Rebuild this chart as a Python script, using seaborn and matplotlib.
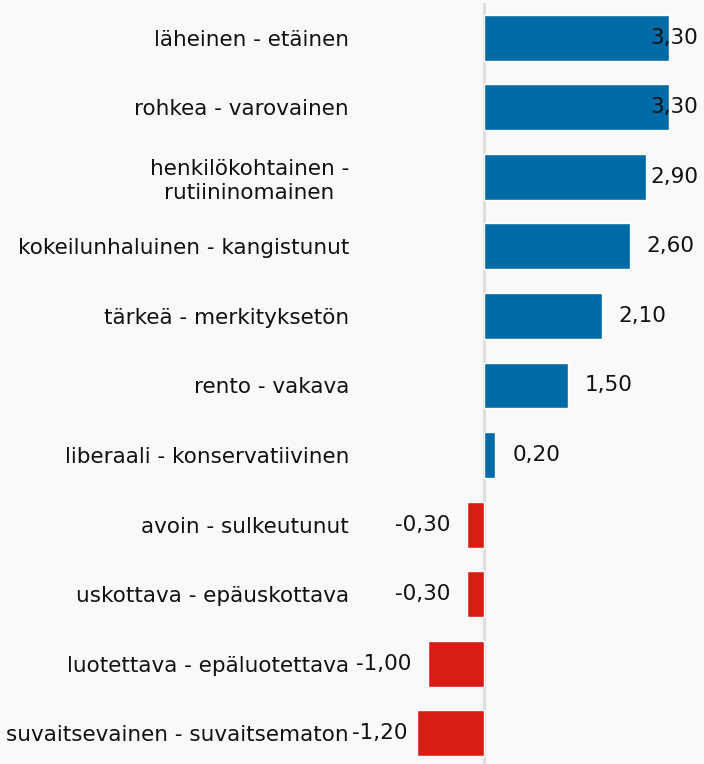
import pandas as pd
import matplotlib.pyplot as plt
import seaborn as sns

kategoriat = [
    'läheinen - etäinen',
    'rohkea - varovainen',
    'henkilökohtainen -\nrutiininomainen',
    'kokeilunhaluinen - kangistunut',
    'tärkeä - merkityksetön',
    'rento - vakava',
    'liberaali - konservatiivinen',
    'avoin - sulkeutunut',
    'uskottava - epäuskottava',
    'luotettava - epäluotettava',
    'suvaitsevainen - suvaitsematon',
]
arvot = [3.30, 3.30, 2.90, 2.60, 2.10, 1.50, 0.20, -0.30, -0.30, -1.00, -1.20]

df = pd.DataFrame({'pari': kategoriat, 'arvo': arvot})
df['suunta'] = ['pos' if v >= 0 else 'neg' for v in df['arvo']]

sns.set_style('white')
plt.rcParams['font.family'] = ['DejaVu Sans']

fs = 15.5
fig = plt.figure(figsize=(7.04, 7.64), dpi=100, facecolor='#f9f9f9')
ax = fig.add_axes([360 / 704, -4 / 764, 344 / 704, 765 / 764])
ax.set_facecolor('#f9f9f9')

sns.barplot(data=df, x='arvo', y='pari', hue='suunta', orient='h',
            palette={'pos': '#006ba6', 'neg': '#d71e14'}, width=0.66,
            dodge=False, legend=False, saturation=1, ax=ax)

px = 1 / 56  # one pixel in data units
xmin, xmax = -124 * px, 220 * px
ax.set_xlim(xmin, xmax)
ax.set_ylim(10.5, -0.5)
ax.axvline(0, color='#dddddd', lw=2, zorder=0)

pad = 17 * px
for i, v in enumerate(arvot):
    teksti = f'{v:.2f}'.replace('.', ',')
    kw = dict(va='center', fontsize=fs, color='#111111')
    if v >= 0:
        if v + pad + 48 * px > xmax - 6 * px:
            ax.text(xmax - 6 * px, i, teksti, ha='right', **kw)
        else:
            ax.text(v + pad, i, teksti, ha='left', **kw)
    else:
        if v - pad - 55 * px < -132 * px:
            ax.text(-132 * px, i, teksti, ha='left', **kw)
        else:
            ax.text(v - pad, i, teksti, ha='right', **kw)

ax.set_xlabel('')
ax.set_ylabel('')
ax.set_xticks([])
ax.tick_params(axis='y', length=0, pad=8, labelsize=fs, labelcolor='#111111')
for lab in ax.get_yticklabels():
    lab.set_multialignment('center')
    lab.set_linespacing(1.25)
sns.despine(ax=ax, left=True, bottom=True)

fig.savefig('out.png', dpi=100, facecolor=fig.get_facecolor())
